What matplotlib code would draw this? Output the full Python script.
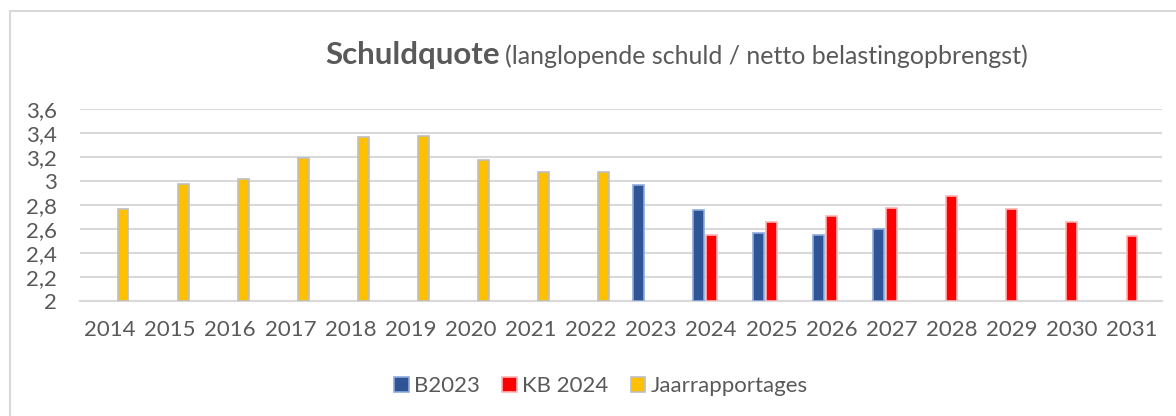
import matplotlib
matplotlib.use("Agg")
import matplotlib.pyplot as plt
import numpy as np
from matplotlib.patches import Patch
from matplotlib.lines import Line2D

plt.rcParams['font.family'] = ['Lato', 'DejaVu Sans']

years = [str(y) for y in range(2014, 2032)]
b2023 = [None]*9 + [2.97, 2.76, 2.57, 2.55, 2.60, None, None, None, None]
kb2024 = [None]*10 + [2.55, 2.66, 2.71, 2.78, 2.88, 2.77, 2.66, 2.54]
jaar = [2.77, 2.98, 3.02, 3.19, 3.37, 3.38, 3.18, 3.08, 3.08] + [None]*9

series = [
    ("B2023", b2023, "#2F5597", "#8FAADC"),
    ("KB 2024", kb2024, "#FF0000", "#FFB3B3"),
    ("Jaarrapportages", jaar, "#FFC000", "#BFBFBF"),
]

fig = plt.figure(figsize=(11.76, 4.16), dpi=100)
ax = fig.add_axes([80/1176, 1-301/416, (1162-80)/1176, (301-109.3)/416])

x = np.arange(len(years))
offsets = [-0.215, 0.0, 0.215]
width = 0.18
handles = []
for (name, vals, fc, ec), off in zip(series, offsets):
    xs = [xi + off for xi, v in zip(x, vals) if v is not None]
    hs = [v - 2 for v in vals if v is not None]
    ax.bar(xs, hs, width=width, bottom=2, color=fc, edgecolor=ec, linewidth=1.2, zorder=3)
    handles.append(Patch(facecolor=fc, edgecolor=ec, linewidth=1.2, label=name))

ax.set_xlim(-0.5, len(years) - 0.5)
ax.set_ylim(2, 3.6)
ticks = np.round(np.arange(2.0, 3.61, 0.2), 1)
ax.set_yticks(ticks)
ax.set_yticklabels([("%g" % t).replace('.', ',') for t in ticks])
ax.set_xticks(x)
ax.set_xticklabels(years)
ax.tick_params(axis='both', length=0, labelsize=16, colors='#595959')
ax.tick_params(axis='x', pad=14)
ax.tick_params(axis='y', pad=16.5)
ax.yaxis.grid(True, color='#D9D9D9', linewidth=1.5, zorder=0)
ax.set_axisbelow(True)
for s in ['top', 'right', 'left']:
    ax.spines[s].set_visible(False)
ax.spines['bottom'].set_color('#D9D9D9')
ax.spines['bottom'].set_linewidth(1.5)

fig.text(325/1176, 1-64/416, "Schuldquote", fontsize=22.5, fontweight='bold', color='#595959',
         ha='left', va='baseline')
fig.text(1028/1176, 1-64/416, "(langlopende schuld / netto belastingopbrengst)", fontsize=18,
         color='#595959', ha='right', va='baseline')

leg = fig.legend(handles=handles, loc='center', bbox_to_anchor=(601/1176, 1-386/416), ncol=3,
                 frameon=False, fontsize=16, handlelength=0.64, handleheight=0.64,
                 handletextpad=0.25, columnspacing=1.0, labelcolor='#595959')

# outer chart border
fig.add_artist(Line2D([9.5/1176, 1], [1-10.5/416, 1-10.5/416], color='#D9D9D9', linewidth=1.5))
fig.add_artist(Line2D([9.5/1176, 9.5/1176], [0, 1-10.5/416], color='#D9D9D9', linewidth=1.5))

fig.savefig("out.png", dpi=100)
